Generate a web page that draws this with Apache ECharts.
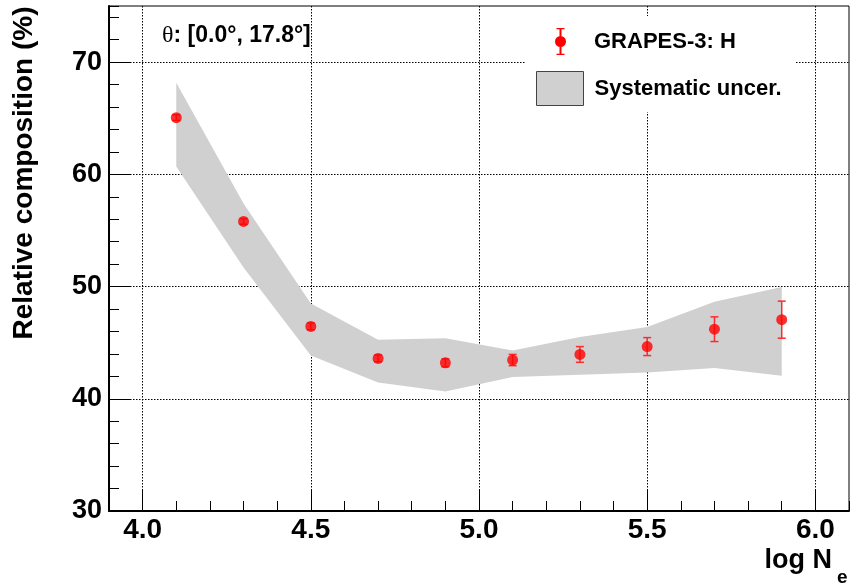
<!DOCTYPE html>
<html>
<head>
<meta charset="utf-8">
<script src="https://cdn.jsdelivr.net/npm/echarts@6/dist/echarts.min.js"></script>
<style>html,body{margin:0;padding:0;background:#fff}#c{width:850px;height:586px}</style>
</head>
<body>
<div id="c"></div>
<script>
const xVals   = [4.1, 4.3, 4.5, 4.7, 4.9, 5.1, 5.3, 5.5, 5.7, 5.9];
const hFrac   = [65.05, 55.8, 46.45, 43.6, 43.2, 43.45, 43.95, 44.65, 46.2, 47.05];
const statErr = [0.25, 0.25, 0.3, 0.3, 0.35, 0.5, 0.7, 0.8, 1.1, 1.65];
const sysLow  = [60.7, 51.7, 43.85, 41.45, 40.65, 41.95, 42.15, 42.35, 42.75, 42.05];
const sysHigh = [68.15, 57.4, 48.5, 45.25, 45.4, 44.3, 45.5, 46.4, 48.65, 49.95];
const xTicks  = [4.0, 4.5, 5.0, 5.5, 6.0];
const yTicks  = [30, 40, 50, 60, 70];

const FONT = "'Liberation Sans', Arial, Helvetica, sans-serif";
const chart = echarts.init(document.getElementById('c'), null, {renderer: 'canvas'});

const gridLine = {show: true, lineStyle: {color: '#000', width: 1, type: [1.5, 1.5]}};

const option = {
  animation: false,
  backgroundColor: '#fff',
  textStyle: {fontFamily: FONT},
  grid: {left: 109, right: 1, top: 6, bottom: 75, show: true, borderColor: '#000', borderWidth: 1, backgroundColor: 'transparent'},
  xAxis: [
    {
      type: 'value', position: 'bottom', min: 3.9, max: 6.1,
      axisLine: {show: true, lineStyle: {color: '#000', width: 2}},
      axisTick: {show: true, inside: true, length: 22, customValues: xTicks, lineStyle: {color: '#000', width: 1}},
      axisLabel: {show: true, customValues: xTicks, margin: 5, color: '#000', fontSize: 28, fontWeight: 'bold', fontFamily: FONT,
                  formatter: v => v.toFixed(1)},
      splitLine: gridLine
    },
    {
      type: 'value', position: 'bottom', min: 3.9, max: 6.1, interval: 0.1,
      axisLine: {show: false},
      axisTick: {show: true, inside: true, length: 10, lineStyle: {color: '#000', width: 1}},
      axisLabel: {show: false},
      splitLine: {show: false}
    }
  ],
  yAxis: [
    {
      type: 'value', position: 'left', min: 30, max: 75,
      axisLine: {show: true, lineStyle: {color: '#000', width: 2}},
      axisTick: {show: true, inside: true, length: 22, customValues: yTicks, lineStyle: {color: '#000', width: 1}},
      axisLabel: {show: true, customValues: yTicks, margin: 7, color: '#000', fontSize: 27, fontWeight: 'bold', fontFamily: FONT},
      splitLine: gridLine
    },
    {
      type: 'value', position: 'left', min: 30, max: 75, interval: 2,
      axisLine: {show: false},
      axisTick: {show: true, inside: true, length: 10, lineStyle: {color: '#000', width: 1}},
      axisLabel: {show: false},
      splitLine: {show: false}
    }
  ],
  legend: [
    {
      left: 555, top: 28, padding: 0, itemWidth: 11, itemHeight: 27, selectedMode: false,
      textStyle: {color: '#000', fontSize: 22, fontWeight: 'bold', fontFamily: FONT, padding: [10, 0, 0, 23]},
      data: [{
        name: 'GRAPES-3: H',
        icon: 'path://M4.5,0H6.5V27H4.5Z M1.5,0H9.5V1.2H1.5Z M1.5,25.8H9.5V27H1.5Z M11,13.5A5.5,5.5 0 1 1 0,13.5A5.5,5.5 0 1 1 11,13.5Z',
        itemStyle: {color: '#ff0000', borderWidth: 0}
      }]
    },
    {
      left: 536, top: 71, padding: 0, itemWidth: 47, itemHeight: 34, selectedMode: false,
      textStyle: {color: '#000', fontSize: 22, fontWeight: 'bold', fontFamily: FONT, padding: [8, 0, 0, 6]},
      data: [{
        name: 'Systematic uncer.',
        icon: 'rect',
        itemStyle: {color: '#d0d0d0', borderColor: '#444', borderWidth: 1}
      }]
    }
  ],
  graphic: [
    {type: 'rect', z: 1, shape: {x: 525, y: 16, width: 271, height: 96}, style: {fill: '#fff'}},
    {type: 'text', z: 5, x: 162, y: 36,
     style: {text: '{t|θ}: [0.0°, 17.8°]', fill: '#000', font: "bold 23px " + FONT, verticalAlign: 'middle', align: 'left',
             rich: {t: {fontFamily: "'Liberation Serif', 'DejaVu Serif', serif", fontWeight: 'normal', fontSize: 24, fill: '#000'}}}},
    {type: 'text', z: 5, x: 24, y: 173, rotation: Math.PI / 2,
     style: {text: 'Relative composition (%)', fill: '#000', font: "bold 28px " + FONT, align: 'center', verticalAlign: 'middle'}},
    {type: 'text', z: 5, x: 832, y: 561,
     style: {text: 'log N', fill: '#000', font: "bold 27px " + FONT, align: 'right', verticalAlign: 'middle'}},
    {type: 'text', z: 5, x: 837, y: 578,
     style: {text: 'e', fill: '#000', font: "bold 19px " + FONT, align: 'left', verticalAlign: 'middle'}}
  ],
  series: [
    {
      name: 'Systematic uncer.', type: 'custom', xAxisIndex: 0, yAxisIndex: 0, z: 1, silent: true,
      data: xVals.map((x, i) => [x, sysLow[i], sysHigh[i]]),
      encode: {x: 0, y: [1, 2]},
      itemStyle: {color: '#d0d0d0'},
      renderItem: function (params, api) {
        if (params.dataIndex !== 0) return null;
        const pts = [];
        for (let i = 0; i < xVals.length; i++) pts.push(api.coord([xVals[i], sysHigh[i]]));
        for (let i = xVals.length - 1; i >= 0; i--) pts.push(api.coord([xVals[i], sysLow[i]]));
        return {type: 'polygon', shape: {points: pts}, style: {fill: '#d0d0d0', stroke: null}};
      }
    },
    {
      name: 'GRAPES-3: H', type: 'custom', xAxisIndex: 0, yAxisIndex: 0, z: 3, silent: true,
      data: xVals.map((x, i) => [x, hFrac[i] - statErr[i], hFrac[i] + statErr[i]]),
      encode: {x: 0, y: [1, 2]},
      renderItem: function (params, api) {
        const x = api.value(0);
        const top = api.coord([x, api.value(2)]);
        const bot = api.coord([x, api.value(1)]);
        const w = 4;
        const st = {stroke: '#ff2a2a', lineWidth: 1.5};
        return {type: 'group', children: [
          {type: 'line', shape: {x1: top[0], y1: top[1], x2: bot[0], y2: bot[1]}, style: st},
          {type: 'line', shape: {x1: top[0] - w, y1: top[1], x2: top[0] + w, y2: top[1]}, style: st},
          {type: 'line', shape: {x1: bot[0] - w, y1: bot[1], x2: bot[0] + w, y2: bot[1]}, style: st}
        ]};
      }
    },
    {
      name: 'GRAPES-3: H', type: 'scatter', xAxisIndex: 0, yAxisIndex: 0, z: 4,
      symbol: 'circle', symbolSize: 11,
      itemStyle: {color: '#ff0000'},
      data: xVals.map((x, i) => [x, hFrac[i]])
    }
  ]
};
chart.setOption(option);
</script>
</body>
</html>
